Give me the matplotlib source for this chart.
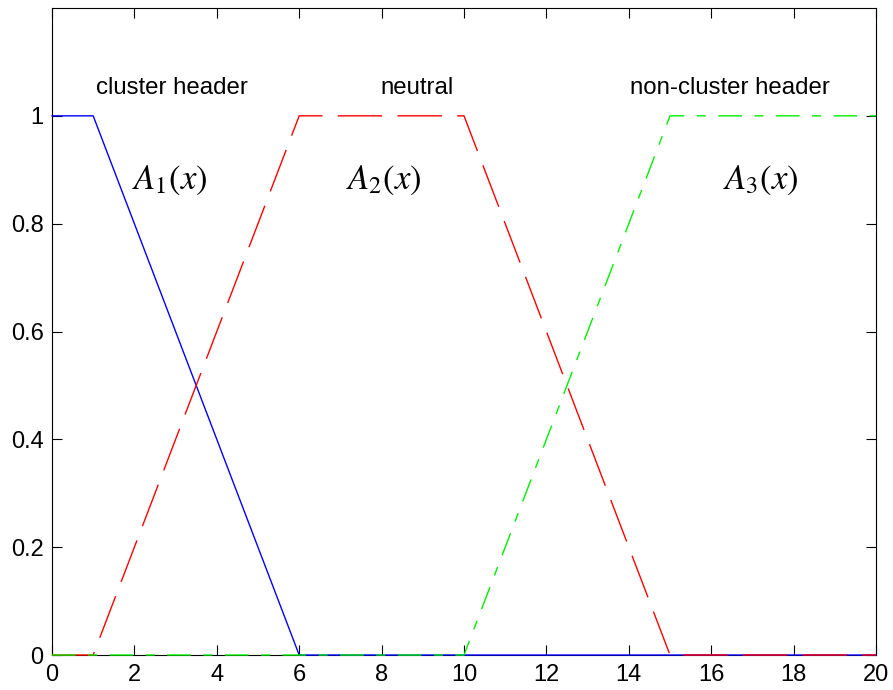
import matplotlib
matplotlib.use("Agg")
import matplotlib.pyplot as plt
from matplotlib.ticker import FormatStrFormatter

plt.rcParams["font.family"] = ["Liberation Sans", "DejaVu Sans"]
plt.rcParams["mathtext.fontset"] = "stix"

# Trapezoid membership functions (breakpoints)
x_a1 = [0, 1, 6, 20]
y_a1 = [1, 1, 0, 0]
x_a2 = [0, 1, 6, 10, 15, 20]
y_a2 = [0, 0, 1, 1, 0, 0]
x_a3 = [0, 10, 15, 20]
y_a3 = [0, 0, 1, 1]

region_labels = ["cluster header", "neutral", "non-cluster header"]
region_x = [2.9, 8.86, 16.45]
curve_labels = [r"$A_1(x)$", r"$A_2(x)$", r"$A_3(x)$"]
curve_x = [2.86, 8.05, 17.2]

fig = plt.figure(figsize=(8.93, 6.9), dpi=100)
ax = fig.add_axes([0.0582, 0.0507, 0.9228, 0.9377])

ax.plot(x_a1, y_a1, color="blue", lw=1.0, zorder=3, clip_on=False)
ax.plot(x_a2, y_a2, color="red", lw=1.0, dashes=(32, 11), zorder=3, clip_on=False)
ax.plot(x_a3, y_a3, color="#00ee00", lw=1.0, dashes=(17, 9, 6.5, 9), zorder=3, clip_on=False)

for lbl, xp in zip(region_labels, region_x):
    ax.text(xp, 1.052, lbl, ha="center", va="center", fontsize=17.3)
for lbl, xp in zip(curve_labels, curve_x):
    ax.text(xp, 0.88, lbl, ha="center", va="center", fontsize=25)

ax.set_xlim(0, 20)
ax.set_ylim(0, 1.2)
ax.set_xticks(range(0, 21, 2))
ax.set_yticks([0, 0.2, 0.4, 0.6, 0.8, 1])
ax.yaxis.set_major_formatter(FormatStrFormatter("%g"))
ax.tick_params(direction="in", top=True, right=True, length=7, width=0.8,
               labelsize=17, pad=6)
ax.tick_params(axis="x", pad=6.5)
for s in ax.spines.values():
    s.set_linewidth(0.8)

fig.savefig("out.png", dpi=100)
